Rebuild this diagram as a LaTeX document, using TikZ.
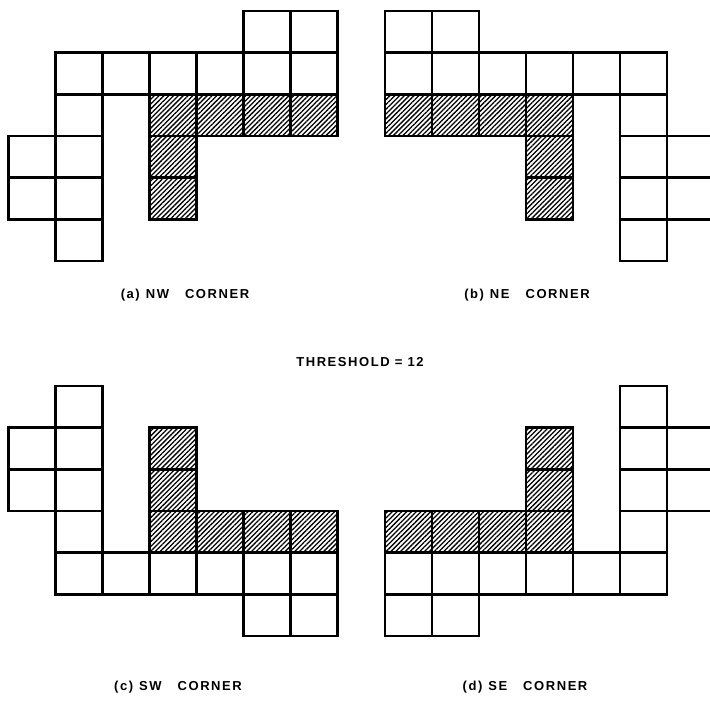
\documentclass[tikz,border=0pt]{standalone}
\usepackage{fontspec}
\newfontfamily\letterfont[LetterSpace=12]{Liberation Sans}
\usetikzlibrary{patterns.meta}
\tikzset{
  cellbox/.style={draw=black,line width=2.4pt,line join=miter},
  hatchbox/.style={cellbox,pattern={Lines[angle=45,distance=3.4pt,line width=1.3pt]}},
  caption/.style={font=\letterfont\bfseries\fontsize{13}{15}\selectfont,inner sep=0pt}
}
% one corner of the region, in cell units (col/row)
\newcommand{\cornercells}{%
  \foreach \c/\r in {5/0,6/0,1/1,2/1,3/1,4/1,5/1,6/1,1/2,0/3,1/3,0/4,1/4,1/5}
    \draw[cellbox] (\c,\r) rectangle ++(1,1);
  \foreach \c/\r in {3/2,4/2,5/2,6/2,3/3,3/4}
    \draw[hatchbox] (\c,\r) rectangle ++(1,1);
}

\begin{document}
\begin{tikzpicture}[x=1pt,y=1pt]
  \useasboundingbox (0,0) rectangle (710,702);
  \clip (0,0) rectangle (710,702);

  % (a) NW
  \begin{scope}[shift={(8.5,691)},x=47pt,y=-41.67pt]
    \cornercells
  \end{scope}
  % (b) NE
  \begin{scope}[shift={(714,691)},x=-47pt,y=-41.67pt]
    \cornercells
  \end{scope}
  % (c) SW
  \begin{scope}[shift={(8.5,66)},x=47pt,y=41.67pt]
    \cornercells
  \end{scope}
  % (d) SE
  \begin{scope}[shift={(714,66)},x=-47pt,y=41.67pt]
    \cornercells
  \end{scope}

  \node[caption] (capNW) at (185,407) {(a)\hspace{6pt}NW\hspace{16pt}CORNER};
  \node[caption] (capNE) at (527,407) {(b)\hspace{6pt}NE\hspace{16pt}CORNER};
  \node[caption] (thresh) at (360,340) {THRESHOLD = 12};
  \node[caption] (capSW) at (178,15) {(c)\hspace{6pt}SW\hspace{16pt}CORNER};
  \node[caption] (capSE) at (525,15) {(d)\hspace{6pt}SE\hspace{16pt}CORNER};
\end{tikzpicture}
\end{document}
